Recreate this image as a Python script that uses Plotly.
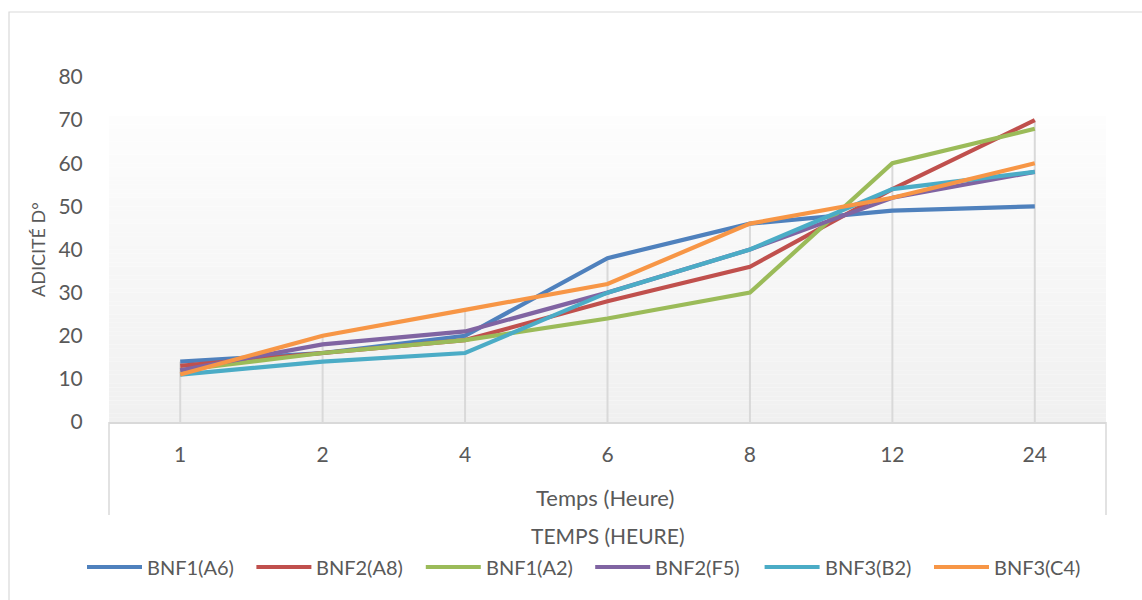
import plotly.graph_objects as go

# Sampling times (hours) and acidity readings per strain
temps = ["1", "2", "4", "6", "8", "12", "24"]
bnf1_a6 = [14, 16, 20, 38, 46, 49, 50]
bnf2_a8 = [13, 16, 19, 28, 36, 54, 70]
bnf1_a2 = [12, 16, 19, 24, 30, 60, 68]
bnf2_f5 = [12, 18, 21, 30, 40, 52, 58]
bnf3_b2 = [11, 14, 16, 30, 40, 54, 58]
bnf3_c4 = [11, 20, 26, 32, 46, 52, 60]

series_names = ["BNF1(A6)", "BNF2(A8)", "BNF1(A2)", "BNF2(F5)", "BNF3(B2)", "BNF3(C4)"]
series_values = [bnf1_a6, bnf2_a8, bnf1_a2, bnf2_f5, bnf3_b2, bnf3_c4]
series_colors = ["#4F81BD", "#C0504D", "#9BBB59", "#8064A2", "#4BACC6", "#F79646"]

W, H = 1142, 600
L, R, T, B = 109, 36, 77, 178
PW, PH = W - L - R, H - T - B
FONT = "Lato"
GREY_TXT = "#595959"
GRID = "#d9d9d9"


def px_x(x):
    return (x - L) / PW


def px_y(y):
    return (H - B - y) / PH


fig = go.Figure()

# drop lines from the highest reading at each time down to the axis
tops = [max(vals) for vals in zip(*series_values)]
dx, dy = [], []
for t, top in zip(temps, tops):
    dx += [t, t, None]
    dy += [0, top, None]
fig.add_trace(go.Scatter(x=dx, y=dy, mode="lines", line=dict(color=GRID, width=2),
                         hoverinfo="skip", showlegend=False))

for name, vals, col in zip(series_names, series_values, series_colors):
    fig.add_trace(go.Scatter(x=temps, y=vals, mode="lines", name=name, showlegend=False,
                             line=dict(color=col, width=4.2)))

shapes = []
annotations = []

# soft vertical gradient in the plotting area
n_bands = 71
top_c = (253, 253, 253)
bot_c = (240, 240, 240)
for i in range(n_bands):
    f = i / (n_bands - 1)
    c = tuple(round(bot_c[k] + (top_c[k] - bot_c[k]) * f) for k in range(3))
    shapes.append(dict(type="rect", xref="paper", yref="y", x0=0, x1=1, y0=i, y1=i + 1,
                       fillcolor="rgb(%d,%d,%d)" % c, line=dict(width=0), layer="below"))
# category box under the axis
for xp in (0, 1):
    shapes.append(dict(type="line", xref="paper", yref="paper", x0=xp, x1=xp,
                       y0=0, y1=px_y(515), line=dict(color=GRID, width=1.5)))
# outer chart border
shapes.append(dict(type="rect", xref="paper", yref="paper", x0=px_x(9), x1=px_x(1150),
                   y0=px_y(610), y1=px_y(12), line=dict(color=GRID, width=1.2),
                   fillcolor="rgba(0,0,0,0)"))

# legend row: long line swatch followed by the series name
leg_y = px_y(567)
for i, (name, col) in enumerate(zip(series_names, series_colors)):
    x0 = 87 + 169.4 * i
    shapes.append(dict(type="line", xref="paper", yref="paper", x0=px_x(x0), x1=px_x(x0 + 55),
                       y0=leg_y, y1=leg_y, line=dict(color=col, width=4)))
    annotations.append(dict(text=name, xref="paper", yref="paper", x=px_x(x0 + 58), y=leg_y,
                            xanchor="left", yanchor="middle", showarrow=False,
                            font=dict(family=FONT, size=20, color=GREY_TXT)))

annotations += [
    dict(text="ADICITÉ D°", xref="paper", yref="paper", x=px_x(38), y=px_y(250),
         xanchor="center", yanchor="middle",
         textangle=-90, showarrow=False, font=dict(family=FONT, size=18, color=GREY_TXT)),
    dict(text="Temps (Heure)", xref="paper", yref="paper", x=0.497, y=px_y(497),
         xanchor="center", yanchor="middle",
         showarrow=False, font=dict(family=FONT, size=22, color=GREY_TXT)),
    dict(text="TEMPS (HEURE)", xref="paper", yref="paper", x=0.5, y=px_y(535),
         xanchor="center", yanchor="middle",
         showarrow=False, font=dict(family=FONT, size=21, color=GREY_TXT)),
]

fig.update_layout(
    width=W, height=H, autosize=False,
    margin=dict(l=L, r=R, t=T, b=B, pad=0),
    paper_bgcolor="white", plot_bgcolor="rgba(0,0,0,0)",
    font=dict(family=FONT, size=20, color=GREY_TXT),
    shapes=shapes, annotations=annotations,
    showlegend=False,
    xaxis=dict(type="category", categoryorder="array", categoryarray=temps,
               range=[-0.5, 6.5], showgrid=False, zeroline=False,
               showline=True, linecolor=GRID, linewidth=1.5,
               ticks="outside", ticklen=13, tickcolor="rgba(0,0,0,0)",
               tickfont=dict(family=FONT, size=21, color=GREY_TXT)),
    yaxis=dict(range=[0, 80], dtick=10, showgrid=False, zeroline=False, showline=False,
               ticks="outside", ticklen=21, tickcolor="rgba(0,0,0,0)",
               tickfont=dict(family=FONT, size=21, color=GREY_TXT)),
)

fig.write_html("out.html")
